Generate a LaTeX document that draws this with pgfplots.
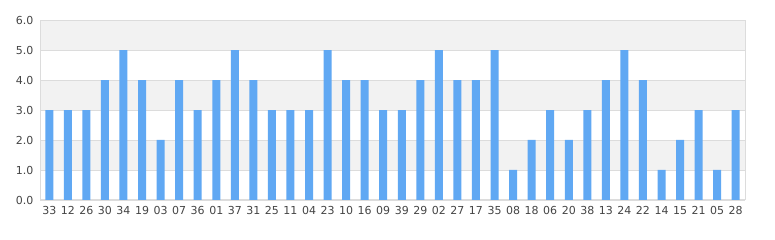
\documentclass[border=0pt]{standalone}
\usepackage{fontspec}
\setmainfont{DejaVu Sans}
\usepackage{pgfplots}
\pgfplotsset{compat=1.18}
\definecolor{barblue}{HTML}{60A8F3}
\definecolor{bandgray}{HTML}{F2F2F2}
\definecolor{gridgray}{HTML}{DCDCDC}
\definecolor{txt}{HTML}{444444}
\begin{document}
\begin{tikzpicture}[x=1pt,y=1pt]
\begin{axis}[
  set layers,
  scale only axis,
  width=705pt, height=180pt,
  at={(0,0)}, anchor=south west,
  xmin=-0.5, xmax=37.5,
  ymin=0, ymax=6,
  ytick={0,1,2,3,4,5,6},
  xtick={0,...,37},
  xticklabels={33,12,26,30,34,19,03,07,36,01,37,31,25,11,04,23,10,16,09,39,29,02,27,17,35,08,18,06,20,38,13,24,22,14,15,21,05,28},
  yticklabel style={/pgf/number format/fixed,/pgf/number format/fixed zerofill,/pgf/number format/precision=1, xshift=-3pt},
  /pgf/number format/assume math mode=true,
  ticklabel style={font=\fontsize{11}{13}\selectfont, text=txt},
  major tick length=0pt,
  ymajorgrids,
  grid style={gridgray, line width=0.8pt},
  axis line style={gridgray, line width=1pt},
  xticklabel style={yshift=-3pt},
  ybar, bar width=8pt,
]
\begin{pgfonlayer}{axis background}
\fill[bandgray] (axis cs:-0.5,1) rectangle (axis cs:37.5,2);
\fill[bandgray] (axis cs:-0.5,3) rectangle (axis cs:37.5,4);
\fill[bandgray] (axis cs:-0.5,5) rectangle (axis cs:37.5,6);
\end{pgfonlayer}
\addplot[fill=barblue, draw=none] coordinates {
(0,3)(1,3)(2,3)(3,4)(4,5)(5,4)(6,2)(7,4)(8,3)(9,4)
(10,5)(11,4)(12,3)(13,3)(14,3)(15,5)(16,4)(17,4)(18,3)(19,3)
(20,4)(21,5)(22,4)(23,4)(24,5)(25,1)(26,2)(27,3)(28,2)(29,3)
(30,4)(31,5)(32,4)(33,1)(34,2)(35,3)(36,1)(37,3)};
\end{axis}
\pgfresetboundingbox
\path (-40pt,-40pt) rectangle (735pt,200pt);
\end{tikzpicture}
\end{document}
